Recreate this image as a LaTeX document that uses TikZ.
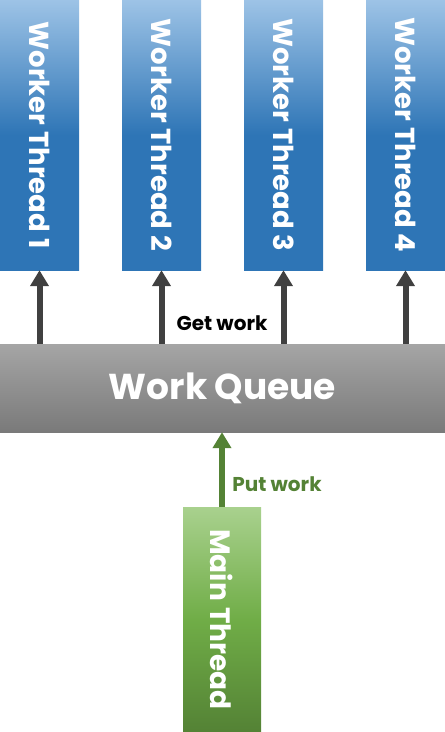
\documentclass[tikz,border=0pt]{standalone}
\usepackage{fontspec}
\setmainfont{Poppins}
\usetikzlibrary{arrows.meta}
\definecolor{blueTop}{HTML}{9DC3E6}
\definecolor{blueMain}{HTML}{2E75B6}
\definecolor{greenTop}{HTML}{A9D18E}
\definecolor{greenMid}{HTML}{70AD47}
\definecolor{greenMain}{HTML}{548235}
\definecolor{grayTop}{HTML}{A5A5A5}
\definecolor{grayBot}{HTML}{7A7A7A}
\definecolor{arrowGray}{HTML}{404040}
\begin{document}
\begin{tikzpicture}[x=1pt, y=-1pt,
    workerbox/.style={rectangle, inner sep=0pt, minimum width=79pt, minimum height=270pt,
        top color=blueTop, bottom color=blueMain, middle color=blueMain, text=white,
        font=\fontsize{27.5}{30}\selectfont\bfseries},
    mainbox/.style={rectangle, inner sep=0pt, minimum width=78pt, minimum height=225pt,
        top color=greenTop, bottom color=greenMain, middle color=greenMid, text=white,
        font=\fontsize{28}{30}\selectfont\bfseries},
    queuebox/.style={rectangle, inner sep=0pt, minimum width=445pt, minimum height=88pt,
        top color=grayTop, bottom color=grayBot, text=white,
        font=\fontsize{36}{40}\selectfont\bfseries},
    getarrow/.style={draw=arrowGray, line width=6pt, -{Triangle[width=18pt, length=16pt]}},
    putarrow/.style={draw=greenMain, line width=6pt, -{Triangle[width=18pt, length=16pt]}},
    steplabel/.style={font=\fontsize{20}{22}\selectfont\bfseries}]
    \useasboundingbox (0,0) rectangle (445,732);
    % Worker threads
    \node[workerbox] (w1) at (39.5,135) {\rotatebox{-90}{Worker Thread 1}};
    \node[workerbox] (w2) at (161.5,135) {\rotatebox{-90}{Worker Thread 2}};
    \node[workerbox] (w3) at (283.5,135) {\rotatebox{-90}{Worker Thread 3}};
    \node[workerbox] (w4) at (405.5,135) {\rotatebox{-90}{Worker Thread 4}};
    
    % Queue
    \node[queuebox] (q) at (222.5,388) {Work Queue};
    
    % Main thread
    \node[mainbox] (m) at (222,619.5) {\rotatebox{-90}{Main Thread}};
    
    % Arrows
    \foreach \w in {w1,w2,w3,w4}
        \draw[getarrow] (\w.south |- q.north) -- (\w.south);
    \draw[putarrow] (m.north) -- (m.north |- q.south);
    
    \node[steplabel, text=black] (get) at (222,323) {Get work};
    \node[steplabel, text=greenMain] (put) at (277,484) {Put work};
\end{tikzpicture}
\end{document}
